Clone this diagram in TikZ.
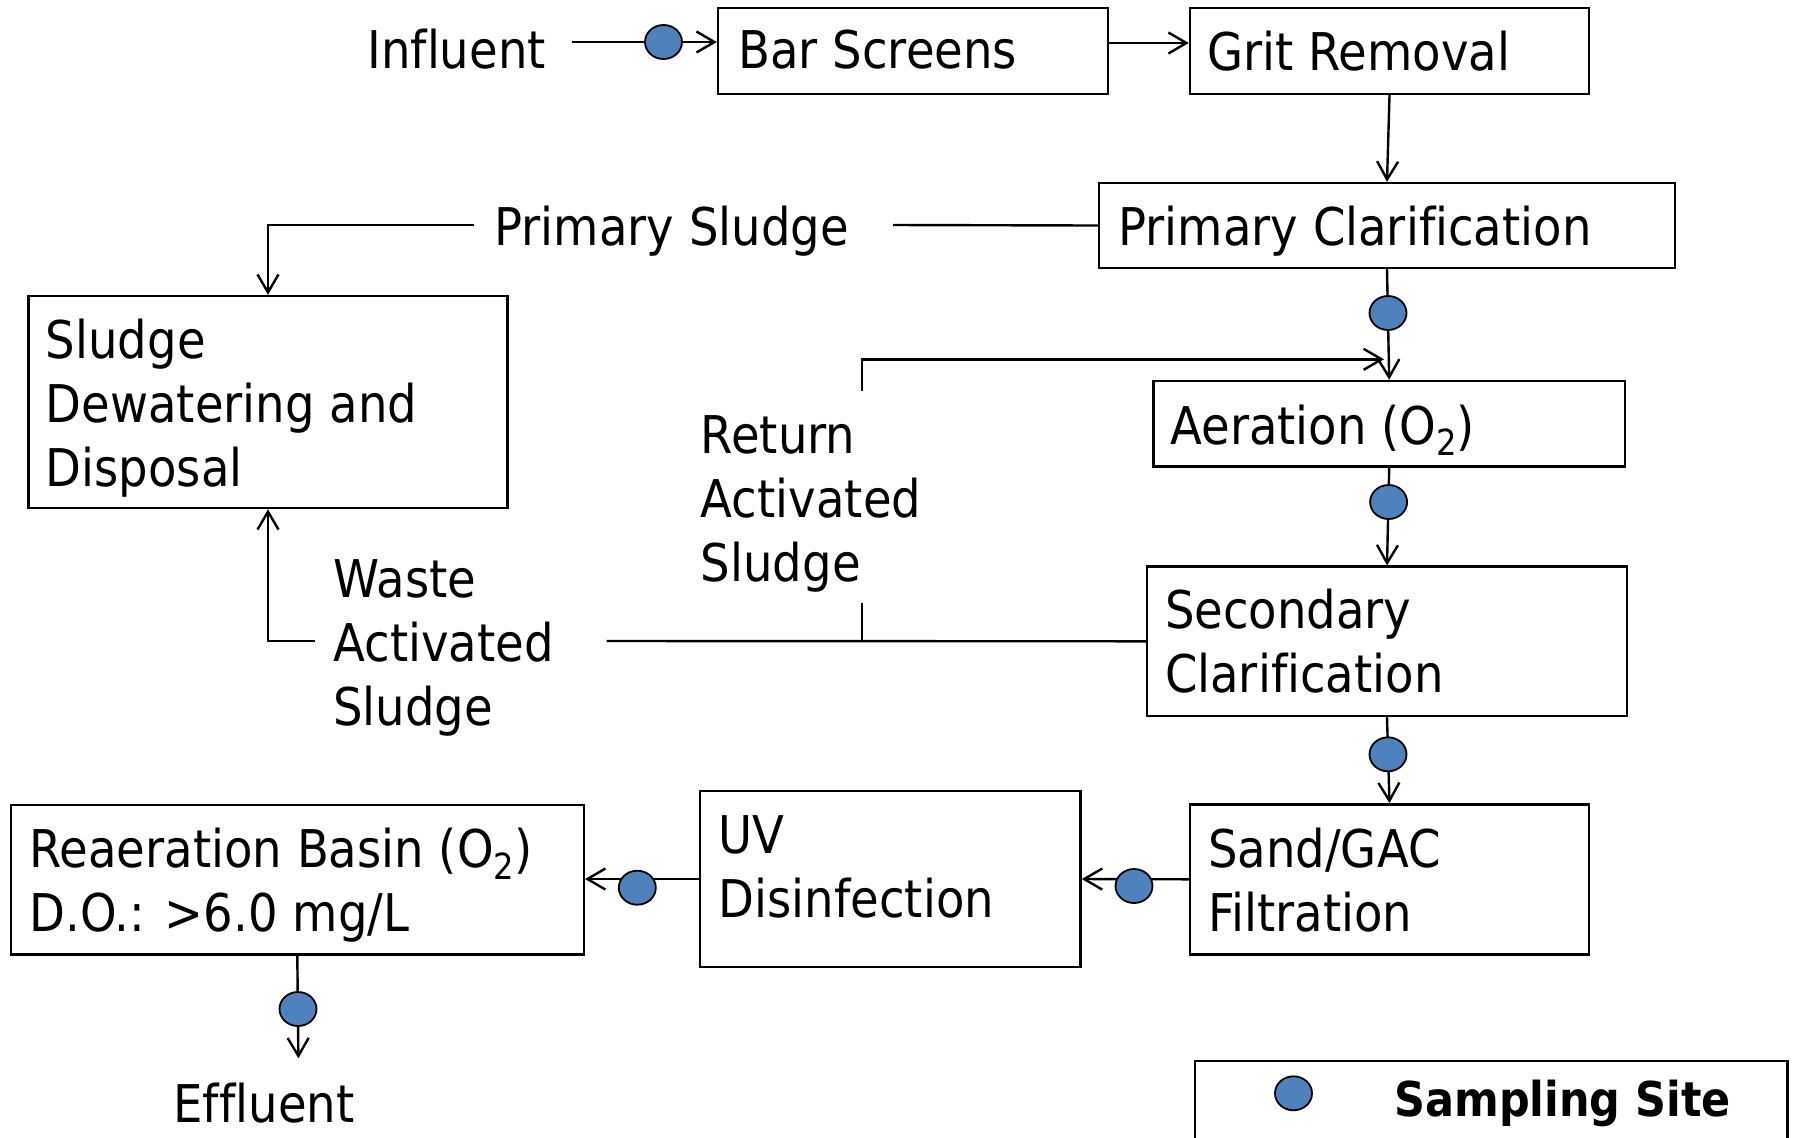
\documentclass[tikz,border=0pt]{standalone}
\usepackage{fontspec}
\setmainfont{DejaVu Sans}[FakeStretch=0.895, Ligatures=NoCommon]
\usetikzlibrary{arrows.meta,calc,shapes.geometric}
\definecolor{siteblue}{HTML}{4F81BD}
\newcommand{\subtwo}{\raisebox{-0.22em}{\fontsize{18}{18}\selectfont 2}}
\begin{document}
\begin{tikzpicture}[x=0.5pt,y=-0.5pt,
  box/.style={draw, line width=1.2pt, inner sep=0pt},
  txt/.style={anchor=north west, inner sep=0pt, align=left, font=\fontsize{26}{32}\selectfont},
  conn/.style={line width=1.2pt},
  arr/.style={conn, -{Straight Barb[length=9pt,width=10.5pt]}},
  site/.style={ellipse, draw=black, line width=0.9pt, fill=siteblue, inner sep=0pt, minimum width=18.5pt, minimum height=17pt}]
\useasboundingbox (0,0) rectangle (1793,1137);
\fill[white] (0,0) rectangle (1793,1137);
\clip (0,0) rectangle (1793,1137);

% boxes
\node[box, minimum width=195pt,   minimum height=43pt]    (bar)    at (913,51) {};
\node[box, minimum width=199.5pt, minimum height=43pt]    (grit)   at (1389.5,51) {};
\node[box, minimum width=288pt,   minimum height=42.5pt]  (pc)     at (1387,225.5) {};
\node[box, minimum width=239.5pt, minimum height=106pt]   (sludge) at (268,402) {};
\node[box, minimum width=235.8pt, minimum height=42.8pt]  (aer)    at (1389.2,423.7) {};
\node[box, minimum width=240pt,   minimum height=74.7pt]  (sec)    at (1387,641.3) {};
\node[box, minimum width=199.5pt, minimum height=75pt]    (sand)   at (1389.5,879.3) {};
\node[box, minimum width=190.3pt, minimum height=88.2pt]  (uv)     at (890.3,879) {};
\node[box, minimum width=286.5pt, minimum height=74.7pt]  (rea)    at (297.3,879.7) {};
\node[box, minimum width=296.3pt, minimum height=52pt]    (legend) at (1491.3,1113) {};

% texts
\node[txt] (infT)    at (367,24)      {\rule{0pt}{22pt}Influent};
\node[txt] (barT)    at (738,24)      {\rule{0pt}{22pt}Bar Screens};
\node[txt] (gritT)   at (1207,26)     {\rule{0pt}{22pt}Grit Removal};
\node[txt] (pcT)     at (1118,201.5)  {\rule{0pt}{22pt}Primary Clarification};
\node[txt] (psT)     at (494,201)     {\rule{0pt}{22pt}Primary Sludge};
\node[txt] (sludgeT) at (45.5,314)    {\rule{0pt}{22pt}Sludge\\Dewatering and\\Disposal};
\node[txt] (retT)    at (700.5,409.5) {\rule{0pt}{22pt}Return\\Activated\\Sludge};
\node[txt] (aerT)    at (1170,400)    {\rule{0pt}{22pt}Aeration (O\subtwo)};
\node[txt] (wasT)    at (333,553)     {\rule{0pt}{22pt}Waste\\Activated\\Sludge};
\node[txt] (secT)    at (1164.6,584.3){\rule{0pt}{22pt}Secondary\\Clarification};
\node[txt] (sandT)   at (1207.7,823.3){\rule{0pt}{22pt}Sand/GAC\\Filtration};
\node[txt] (uvT)     at (718.5,809.3) {\rule{0pt}{22pt}UV\\Disinfection};
\node[txt] (reaT)    at (29,823.3)    {\rule{0pt}{22pt}Reaeration Basin (O\subtwo)\\D.O.: >6.0 mg/L};
\node[txt] (effT)    at (173,1077.7)  {\rule{0pt}{22pt}Effluent};
\node[txt, font=\bfseries\fontsize{24}{29}\selectfont] (legT) at (1394,1072) {\rule{0pt}{22pt}Sampling Site};

% free-end coordinates
\coordinate (infL)   at (572,42);
\coordinate (psR)    at (893,225);
\coordinate (psL)    at (474,225);
\coordinate (wasR)   at (606.5,641);
\coordinate (wasL)   at (315,641);
\coordinate (retJ)   at (862,641);
\coordinate (retLo)  at (862,602.7);
\coordinate (retHi)  at (862,390.7);
\coordinate (retTip) at (1384,359.3);
\coordinate (effTip) at (298.4,1058.3);

% connectors
\draw[arr] (infL) -- (infL -| bar.west);
\draw[arr] ($(bar.east)+(0,-8)$) -- ($(grit.west)+(0,-8)$);
\draw[arr] (grit.south) -- (pc.north);
\draw[arr] (pc.south) -- (aer.north);
\draw[arr] (aer.south) -- (sec.north);
\draw[arr] (sec.south) -- (sand.north);
\draw[arr] (sand.west) -- (uv.east);
\draw[arr] (uv.west) -- (uv.west -| rea.east);
\draw[arr] (rea.south) -- (effTip);
\draw[conn] (pc.west) -- (psR);
\draw[arr] (psL) -| (sludge.north);
\draw[conn] (sec.west) -- (wasR);
\draw[arr] (wasL) -| (sludge.south);
\draw[conn] (retJ) -- (retLo);
\draw[arr] (retHi) |- (retTip);

% sampling sites
\node[site] (s1) at (663.5,42) {};
\node[site] (s2) at (1388,313) {};
\node[site] (s3) at (1388.6,502) {};
\node[site] (s4) at (1388,754.3) {};
\node[site] (s5) at (1134,886) {};
\node[site] (s6) at (637.3,887.7) {};
\node[site] (s7) at (298,1009) {};
\node[site] (s8) at (1293.5,1093.3) {};
\end{tikzpicture}
\end{document}
